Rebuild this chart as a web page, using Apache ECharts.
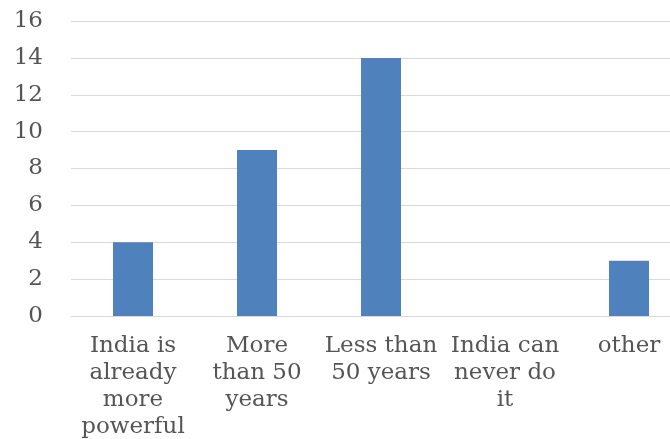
<!DOCTYPE html>
<html>
<head>
<meta charset="utf-8">
<script src="https://cdn.jsdelivr.net/npm/echarts@6/dist/echarts.min.js"></script>
<style>
html,body{margin:0;padding:0;background:#fff;overflow:hidden;width:670px;height:439px;}
#chart{width:691px;height:439px;}
</style>
</head>
<body>
<div id="chart"></div>
<script>
var categories = ['India is\nalready\nmore\npowerful', 'More\nthan 50\nyears', 'Less than\n50 years', 'India can\nnever do\nit', 'other'];
var values = [4, 9, 14, 0, 3];
var yTicks = { min: 0, max: 16, step: 2 };

// the original picture is cut off on the right, so the chart is drawn a bit wider than the page
var myChart = echarts.init(document.getElementById('chart'));
var option = {
    backgroundColor: '#fff',
    animation: false,
    grid: {
        left: 71,
        right: 0,
        top: 21,
        bottom: 123,
        outerBoundsMode: 'none'
    },
    xAxis: [
        {
            type: 'category',
            data: categories,
            axisLine: { show: true, lineStyle: { color: '#d9d9d9', width: 1 } },
            axisTick: { show: false },
            axisLabel: {
                interval: 0,
                margin: 17,
                color: '#555555',
                fontFamily: 'DejaVu Serif',
                fontSize: 23,
                lineHeight: 27,
                align: 'center',
                hideOverlap: false
            }
        }
    ],
    yAxis: [
        {
            type: 'value',
            min: yTicks.min,
            max: yTicks.max,
            interval: yTicks.step,
            axisLine: { show: false },
            axisTick: { show: false },
            splitLine: { lineStyle: { color: '#d9d9d9', width: 1 } },
            axisLabel: {
                margin: 28,
                color: '#555555',
                fontFamily: 'DejaVu Serif',
                fontSize: 23
            }
        }
    ],
    series: [
        {
            type: 'bar',
            barWidth: 40,
            itemStyle: { color: '#4f81bd' },
            data: values
        }
    ]
};
myChart.setOption(option);
</script>
</body>
</html>
